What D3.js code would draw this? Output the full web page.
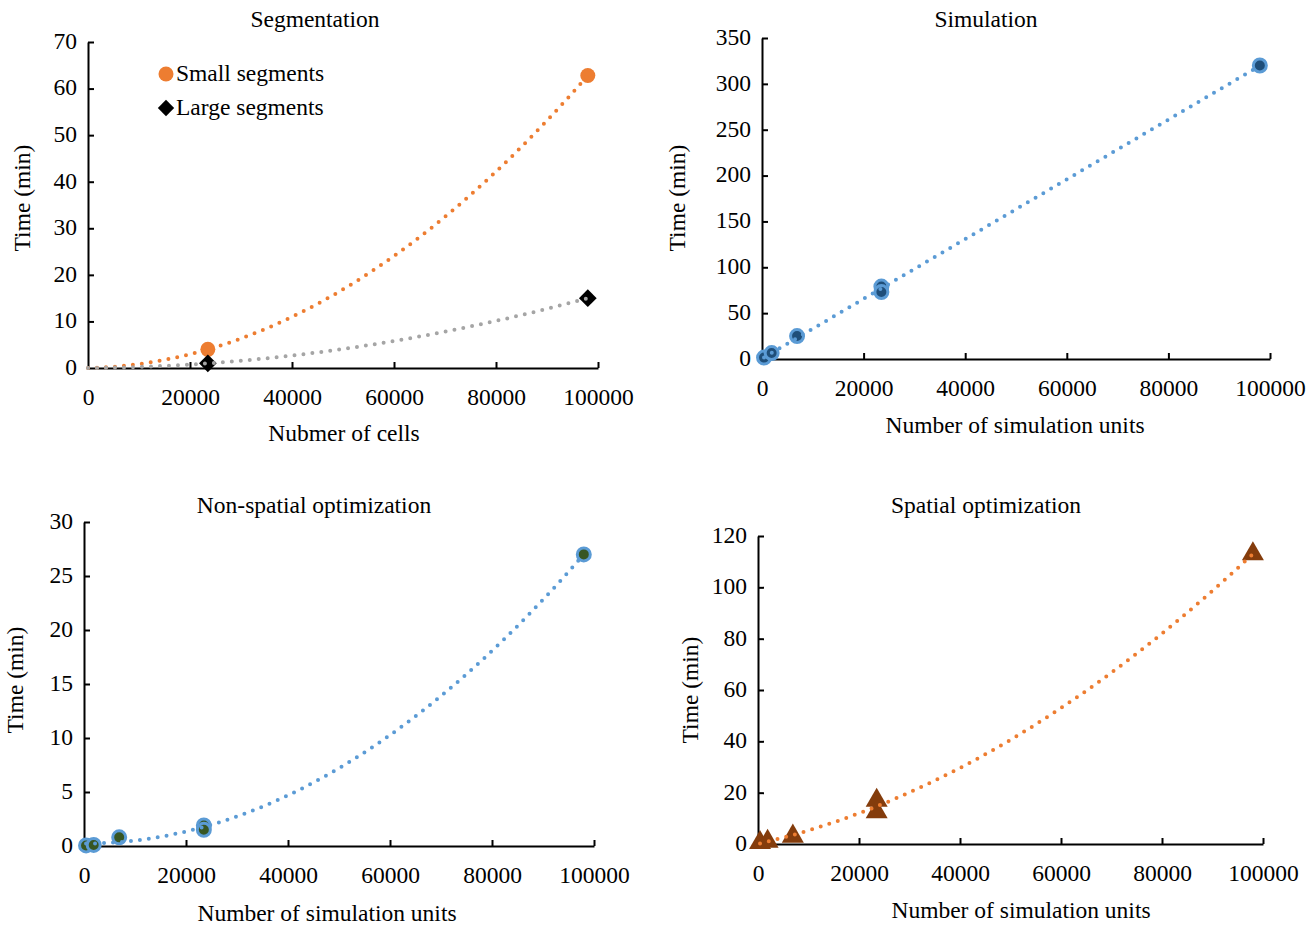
<!DOCTYPE html>
<meta charset="utf-8">
<html>
<head>
<script src="https://d3js.org/d3.v7.min.js"></script>
<style>
body { margin: 0; background: #fff; }
text { font-family: "Liberation Serif", "Times New Roman", serif; fill: #000; }
</style>
</head>
<body>
<div id="chart"></div>
<script>
// ---- data ----
var segCells = [23500, 98000];
var segSmall = [4, 62.8];
var segLarge = [1, 15];

var simUnits = [400, 1900, 6900, 23500, 23500, 98000];
var simTime = [1.5, 6.5, 25, 79, 73, 320];
var nonSpatialTime = [0.05, 0.1, 0.8, 1.9, 1.5, 27];
var spatialTime = [0.5, 1, 3, 17, 12.5, 113];

var xTicks = [0, 20000, 40000, 60000, 80000, 100000];

var FS = 23.5; // font size

var svg = d3.select("#chart").append("svg")
    .attr("width", 1315)
    .attr("height", 927);

svg.append("rect").attr("width", 1315).attr("height", 927).attr("fill", "#fff");

// least squares polynomial fit, optionally forced through the origin
function polyFit(xs, ys, order, throughOrigin) {
    var p0 = throughOrigin ? 1 : 0;
    var n = order + 1 - p0;
    var A = [], b = [];
    for (var i = 0; i < n; i++) {
        A.push(new Array(n).fill(0));
        b.push(0);
    }
    xs.forEach(function (x, k) {
        var s = x / 1e5; // scale to keep numbers sane
        for (var i = 0; i < n; i++) {
            for (var j = 0; j < n; j++) A[i][j] += Math.pow(s, i + p0) * Math.pow(s, j + p0);
            b[i] += Math.pow(s, i + p0) * ys[k];
        }
    });
    // gaussian elimination
    for (var c = 0; c < n; c++) {
        var piv = c;
        for (var r = c + 1; r < n; r++) if (Math.abs(A[r][c]) > Math.abs(A[piv][c])) piv = r;
        var t = A[c]; A[c] = A[piv]; A[piv] = t;
        var tb = b[c]; b[c] = b[piv]; b[piv] = tb;
        for (var r2 = c + 1; r2 < n; r2++) {
            var f = A[r2][c] / A[c][c];
            for (var j2 = c; j2 < n; j2++) A[r2][j2] -= f * A[c][j2];
            b[r2] -= f * b[c];
        }
    }
    var coef = new Array(n).fill(0);
    for (var r3 = n - 1; r3 >= 0; r3--) {
        var sum = b[r3];
        for (var j3 = r3 + 1; j3 < n; j3++) sum -= A[r3][j3] * coef[j3];
        coef[r3] = sum / A[r3][r3];
    }
    return function (x) {
        var s = x / 1e5, y = 0;
        for (var i = 0; i < n; i++) y += coef[i] * Math.pow(s, i + p0);
        return y;
    };
}

function panel(cfg) {
    var x = d3.scaleLinear().domain([0, 100000]).range([cfg.left, cfg.right]);
    var y = d3.scaleLinear().domain([0, cfg.yMax]).range([cfg.bottom, cfg.top]);
    var g = svg.append("g");

    // axes
    var xAxis = g.append("g")
        .attr("transform", "translate(0," + cfg.bottom + ")")
        .call(d3.axisBottom(x).tickValues(xTicks).tickSizeInner(-6).tickSizeOuter(0).tickFormat(d3.format("d")));
    var yAxis = g.append("g")
        .attr("transform", "translate(" + cfg.left + ",0)")
        .call(d3.axisLeft(y).tickValues(d3.range(0, cfg.yMax + 0.001, cfg.yStep)).tickSizeInner(-6).tickSizeOuter(0).tickFormat(d3.format("d")));
    [xAxis, yAxis].forEach(function (a) {
        a.select(".domain").attr("stroke", "#000").attr("stroke-width", 2);
        a.selectAll(".tick line").attr("stroke", "#000").attr("stroke-width", 2);
        a.selectAll(".tick text").attr("font-size", FS).attr("font-family", "Liberation Serif").attr("fill", "#000");
    });
    xAxis.selectAll(".tick text").attr("dy", null).attr("y", 32).attr("dominant-baseline", "middle");
    yAxis.selectAll(".tick text").attr("dy", null).attr("x", -11).attr("y", 1).attr("dominant-baseline", "middle");
    xAxis.selectAll(".tick").filter(function (d) { return d === 0; }).select("line").remove();
    yAxis.selectAll(".tick").filter(function (d) { return d === 0; }).select("line").remove();

    // titles
    g.append("text").attr("x", cfg.titleX).attr("y", cfg.titleY + 2)
        .attr("text-anchor", "middle").attr("dominant-baseline", "middle")
        .attr("font-size", FS).text(cfg.title);
    g.append("text").attr("x", cfg.xLabelX).attr("y", cfg.bottom + cfg.xLabelDy + 2)
        .attr("text-anchor", "middle").attr("dominant-baseline", "middle")
        .attr("font-size", FS).text(cfg.xLabel);
    g.append("text")
        .attr("transform", "translate(" + cfg.yLabelX + "," + cfg.yLabelY + ") rotate(-90)")
        .attr("text-anchor", "middle").attr("dominant-baseline", "middle")
        .attr("font-size", FS).text("Time (min)");

    // markers, then trendlines on top
    cfg.series.forEach(function (s) {
        var pts = s.xs.map(function (v, i) { return [v, s.ys[i]]; });
        var m = g.append("g");
        pts.forEach(function (p) {
            var px = x(p[0]), py = y(p[1]);
            if (s.marker === "circle") {
                m.append("circle").attr("cx", px).attr("cy", py).attr("r", s.r || 6)
                    .attr("fill", s.fill).attr("stroke", s.stroke || "none").attr("stroke-width", s.sw || 0);
            } else if (s.marker === "diamond") {
                m.append("path").attr("d", d3.symbol(d3.symbolDiamond2, 200)())
                    .attr("transform", "translate(" + px + "," + py + ")").attr("fill", s.fill);
            } else if (s.marker === "triangle") {
                m.append("path").attr("d", d3.symbol(d3.symbolTriangle, 210)())
                    .attr("transform", "translate(" + px + "," + py + ")").attr("fill", s.fill);
            }
        });
    });
    cfg.series.forEach(function (s) {
        var f = polyFit(s.xs, s.ys, s.order, s.origin);
        var x0 = s.trendFrom, x1 = d3.max(s.xs);
        var line = d3.line().x(function (d) { return x(d); }).y(function (d) { return y(f(d)); });
        g.append("path")
            .attr("d", line(d3.range(x0, x1 + 1, (x1 - x0) / 200)))
            .attr("fill", "none").attr("stroke", s.trend)
            .attr("stroke-width", 4).attr("stroke-linecap", "round")
            .attr("stroke-dasharray", "0 9");
    });
}

panel({
    left: 88, right: 598, top: 42, bottom: 368, yMax: 70, yStep: 10,
    title: "Segmentation", titleX: 315, titleY: 20,
    xLabel: "Nubmer of cells", xLabelX: 344, xLabelDy: 66,
    yLabelX: 25, yLabelY: 198,
    series: [
        { xs: segCells, ys: segSmall, marker: "circle", r: 7.5, fill: "#ED7D31", trend: "#ED7D31", order: 2, origin: true, trendFrom: 0 },
        { xs: segCells, ys: segLarge, marker: "diamond", fill: "#000", trend: "#A5A5A5", order: 2, origin: true, trendFrom: 0 }
    ]
});

panel({
    left: 762, right: 1270, top: 38, bottom: 359, yMax: 350, yStep: 50,
    title: "Simulation", titleX: 986, titleY: 20,
    xLabel: "Number of simulation units", xLabelX: 1015, xLabelDy: 67,
    yLabelX: 680, yLabelY: 198,
    series: [
        { xs: simUnits, ys: simTime, marker: "circle", r: 6.5, fill: "#1F4E79", stroke: "#5B9BD5", sw: 3, trend: "#5B9BD5", order: 1, origin: false, trendFrom: 400 }
    ]
});

panel({
    left: 84, right: 594, top: 522, bottom: 846, yMax: 30, yStep: 5,
    title: "Non-spatial optimization", titleX: 314, titleY: 506,
    xLabel: "Number of simulation units", xLabelX: 327, xLabelDy: 68,
    yLabelX: 18, yLabelY: 680,
    series: [
        { xs: simUnits, ys: nonSpatialTime, marker: "circle", r: 6.5, fill: "#375623", stroke: "#5B9BD5", sw: 3, trend: "#5B9BD5", order: 2, origin: false, trendFrom: 400 }
    ]
});

panel({
    left: 758, right: 1263, top: 536, bottom: 844, yMax: 120, yStep: 20,
    title: "Spatial optimization", titleX: 986, titleY: 506,
    xLabel: "Number of simulation units", xLabelX: 1021, xLabelDy: 67,
    yLabelX: 693, yLabelY: 690,
    series: [
        { xs: simUnits, ys: spatialTime, marker: "triangle", fill: "#843C0C", trend: "#ED7D31", order: 2, origin: false, trendFrom: 400 }
    ]
});

// legend for segmentation
var legend = svg.append("g");
var legendNames = ["Small segments", "Large segments"];
legend.append("circle").attr("cx", 166).attr("cy", 74).attr("r", 7.5).attr("fill", "#ED7D31");
legend.append("path").attr("d", d3.symbol(d3.symbolDiamond2, 170)()).attr("transform", "translate(166,108)").attr("fill", "#000");
legendNames.forEach(function (n, i) {
    legend.append("text").attr("x", 176).attr("y", 76 + i * 34)
        .attr("dominant-baseline", "middle").attr("font-size", FS).text(n);
});
</script>
</body>
</html>
